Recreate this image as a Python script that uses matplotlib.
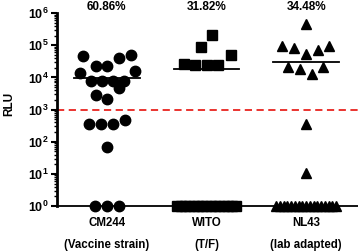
"""Luciferase readout (RLU) per virus strain, dot plot with median bars."""

import matplotlib

matplotlib.use("Agg")
import matplotlib.pyplot as plt
import numpy as np

plt.rcParams["font.family"] = ["Liberation Sans", "DejaVu Sans"]
plt.rcParams["font.weight"] = "bold"
plt.rcParams["mathtext.fontset"] = "custom"
plt.rcParams["mathtext.bf"] = "Liberation Sans:bold"
plt.rcParams["mathtext.rm"] = "Liberation Sans:bold"

# data
strains = ["CM244", "WITO", "NL43"]
subtitles = ["(Vaccine strain)", "(T/F)", "(lab adapted)"]
percents = ["60.86%", "31.82%", "34.48%"]
threshold = 1000

cm244 = [46000, 49000, 39000, 22000, 22000, 13500, 16500,
         8000, 8000, 8000, 8000, 4600, 2800, 2100,
         480, 360, 360, 360, 70, 1, 1, 1]
wito = [205000, 92000, 49000, 27000, 25000, 25000, 25000] + [1] * 15
nl43 = [470000, 95000, 82000, 95000, 70000, 53000, 21000, 18000, 12500, 21000,
        360, 10.5] + [1] * 17
medians = [9500, 18000, 30000]

# layout: horizontal spread of the dots around each category
cm244_dx = [-0.24, 0.24, 0.12, -0.11, 0.0, -0.27, 0.28,
            -0.16, -0.05, 0.06, 0.17, 0.12, -0.11, 0.0,
            0.18, -0.18, -0.06, 0.06, 0.0, -0.12, 0.0, 0.12]
wito_dx = [0.06, -0.05, 0.25, -0.23, -0.12, 0.01, 0.12] + list(np.linspace(-0.30, 0.30, 15))
nl43_dx = [0.0, -0.24, -0.12, 0.23, 0.12, 0.0, -0.18, -0.06, 0.06, 0.17,
           0.0, 0.0] + list(np.linspace(-0.30, 0.30, 17))

series = [(cm244, cm244_dx, "o", 7.5), (wito, wito_dx, "s", 7), (nl43, nl43_dx, "^", 7)]

fig = plt.figure(figsize=(3.58, 2.52), dpi=100)
ax = fig.add_axes([0.159, 0.1825, 0.841, 0.765])

for i, (vals, dx, mk, ms) in enumerate(series):
    ax.plot(np.array(dx) + i, vals, linestyle="none", marker=mk, ms=ms,
            color="black", clip_on=False, zorder=3)
    ax.plot([i - 0.33, i + 0.33], [medians[i], medians[i]], color="black", lw=1.3, zorder=4)
    ax.text(i, 1.016, percents[i], transform=ax.get_xaxis_transform(),
            ha="center", va="baseline", fontsize=8.5, fontweight="bold")

ax.axhline(threshold, color="#e8231f", lw=1.3, linestyle=(0, (4, 2.5)), zorder=2)

ax.set_yscale("log")
ax.set_ylim(1, 1e6)
ax.set_xlim(-0.5, 2.52)
ax.set_yticks([10 ** k for k in range(7)])
ax.set_yticklabels([r"$\mathbf{10^{%d}}$" % k for k in range(7)], fontsize=9)
ax.set_xticks(range(3))
ax.set_xticklabels([f"{s}\n{t}" for s, t in zip(strains, subtitles)],
                   fontsize=8.3, fontweight="bold", linespacing=2.1)
ax.set_ylabel("RLU", fontsize=8.5, fontweight="bold")
ax.yaxis.set_label_coords(-0.138, 0.53)

for side in ("top", "right"):
    ax.spines[side].set_visible(False)
ax.spines["left"].set_linewidth(2)
ax.spines["bottom"].set_linewidth(1.3)
ax.tick_params(axis="y", which="major", length=4, width=1.5, pad=2)
ax.tick_params(axis="y", which="minor", length=2.5, width=1)
ax.tick_params(axis="x", length=3, width=1, pad=5)

fig.savefig("out.png", dpi=100)
